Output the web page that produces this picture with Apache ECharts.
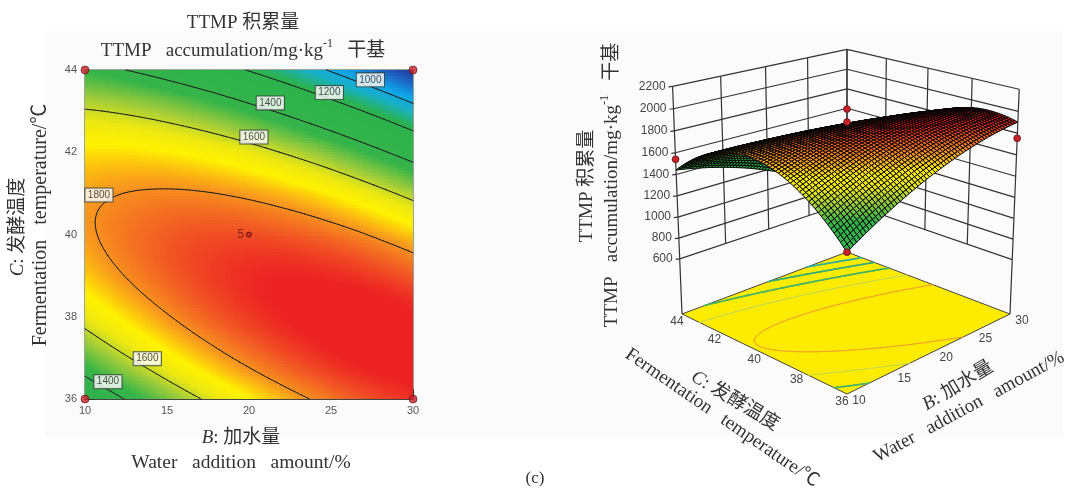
<!DOCTYPE html>
<html><head><meta charset="utf-8">
<style>html,body{margin:0;padding:0;background:#fff}#c{width:1069px;height:488px}</style>
<script src="https://cdn.jsdelivr.net/npm/echarts@6/dist/echarts.min.js"></script>
</head><body><div id="c"></div>
<script>
// ---- values ----
const waterAddition = [10,12,14,16,18,20,22,24,26,28,30];
const fermentationTemp = [36,37,38,39,40,41,42,43,44];
const ttmp36 = [1279,1381,1474,1558,1634,1700,1758,1807,1848,1879,1902];
const ttmp37 = [1486,1571,1647,1715,1774,1824,1865,1897,1921,1935,1941];
const ttmp38 = [1639,1707,1767,1818,1860,1893,1918,1933,1940,1938,1927];
const ttmp39 = [1739,1791,1834,1868,1893,1910,1918,1916,1907,1888,1860];
const ttmp40 = [1786,1821,1847,1865,1873,1873,1864,1846,1820,1784,1740];
const ttmp41 = [1780,1798,1807,1808,1800,1783,1757,1723,1679,1627,1566];
const ttmp42 = [1720,1722,1714,1698,1673,1640,1597,1546,1486,1417,1340];
const ttmp43 = [1607,1592,1568,1535,1494,1443,1384,1316,1239,1154,1059];
const ttmp44 = [1441,1409,1368,1319,1261,1193,1118,1033,939,837,726];
const ttmpRows = [ttmp36,ttmp37,ttmp38,ttmp39,ttmp40,ttmp41,ttmp42,ttmp43,ttmp44];
const contourLevels = [1000,1200,1400,1600,1800];
const contourLabelB = [27.4,24.9,21.3,20.3,10.85,13.8,11.4];
const contourLabelC = [43.76,43.45,43.2,42.37,40.96,36.98,36.42];
const contourLabelV = ['1000','1200','1400','1600','1800','1600','1400'];
const cornerPointsB = [10,30,10,30];
const cornerPointsC = [44,44,36,36];
const centerPoint = [20,40];
const designB = [10,30,10,20,20];
const designC = [44,36,36,40,40];
const designZ = [1540,1753,1280,1891,2009];
const bTicks = [10,15,20,25,30];
const cTicks = [36,38,40,42,44];
const zTicks = [600,800,1000,1200,1400,1600,1800,2000,2200];

// ---- colour scale ----
const rampV = [700,830,960,1060,1180,1450,1560,1640,1705,1790,1860,1920];
const rampC = ['#1f2f8f','#1f5fc0','#0ea5e8','#18b0c8','#2bb24c','#35b44a','#a0cc3a','#ece812','#fff200','#f8981d','#f15a24','#ec2224'];
function hex(c){return [1,3,5].map(i=>parseInt(c.substr(i,2),16));}
const rampRGB = rampC.map(hex);
function colorOf(v){
  if(v<=rampV[0])return rampC[0];
  for(let i=1;i<rampV.length;i++){ if(v<=rampV[i]){
    const t=(v-rampV[i-1])/(rampV[i]-rampV[i-1]),a=rampRGB[i-1],b=rampRGB[i];
    return 'rgb('+a.map((x,k)=>Math.round(x+(b[k]-x)*t)).join(',')+')';
  }}
  return rampC[rampC.length-1];
}

// ---- smooth reading of the table between its nodes (drawing only) ----
const nB=waterAddition.length,nC=fermentationTemp.length;
function node(i,j){
  if(j<0)return 3*node(i,0)-3*node(i,1)+node(i,2);
  if(j>=nC)return 3*node(i,nC-1)-3*node(i,nC-2)+node(i,nC-3);
  if(i<0)return 3*ttmpRows[j][0]-3*ttmpRows[j][1]+ttmpRows[j][2];
  if(i>=nB)return 3*ttmpRows[j][nB-1]-3*ttmpRows[j][nB-2]+ttmpRows[j][nB-3];
  return ttmpRows[j][i];
}
function cr(p0,p1,p2,p3,t){return p1+.5*t*(p2-p0+t*(2*p0-5*p1+4*p2-p3+t*(3*(p1-p2)+p3-p0)));}
function surfaceAt(B,C){
  const fx=(B-waterAddition[0])/(waterAddition[1]-waterAddition[0]);
  const fy=(C-fermentationTemp[0])/(fermentationTemp[1]-fermentationTemp[0]);
  const i=Math.min(nB-2,Math.floor(fx)),j=Math.min(nC-2,Math.floor(fy));
  const tx=fx-i,ty=fy-j,r=[];
  for(let k=-1;k<=2;k++)r.push(cr(node(i-1,j+k),node(i,j+k),node(i+1,j+k),node(i+2,j+k),tx));
  return cr(r[0],r[1],r[2],r[3],ty);
}
function contourSegments(level){
  const NX=100,NY=80,segs=[];
  const bAt=i=>10+20*i/NX,cAt=j=>36+8*j/NY;
  for(let i=0;i<NX;i++)for(let j=0;j<NY;j++){
    const P=[[bAt(i),cAt(j)],[bAt(i+1),cAt(j)],[bAt(i+1),cAt(j+1)],[bAt(i),cAt(j+1)]];
    const V=P.map(p=>surfaceAt(p[0],p[1])),x=[];
    for(let k=0;k<4;k++){const a=V[k],b=V[(k+1)%4];
      if((a<level)!==(b<level)){const t=(level-a)/(b-a),p=P[k],q=P[(k+1)%4];
        x.push([p[0]+(q[0]-p[0])*t,p[1]+(q[1]-p[1])*t]);}}
    if(x.length===2)segs.push(x);
  }
  return segs;
}

// ---- 3D view: floor corners in the photographed view ----
const fF=[847,394],fR=[1010,314],fBk=[847,252],fL=[682,314];
const vpX=847,vpY=4290,zScale=2.88e-5,floorZ=60;
const sx=fF[0]-fR[0]+fBk[0]-fL[0],sy=fF[1]-fR[1]+fBk[1]-fL[1];
const dx1=fR[0]-fBk[0],dx2=fL[0]-fBk[0],dy1=fR[1]-fBk[1],dy2=fL[1]-fBk[1];
const det=dx1*dy2-dx2*dy1;
const hg=(sx*dy2-dx2*sy)/det,hh=(dx1*sy-dy1*sx)/det;
const ha=fR[0]-fF[0]+hg*fR[0],hb=fL[0]-fF[0]+hh*fL[0],hd=fR[1]-fF[1]+hg*fR[1],he=fL[1]-fF[1]+hh*fL[1];
function project(B,C,z){
  const u=(B-10)/20,v=(C-36)/8,t=-zScale*(z-floorZ),W=hg*u+hh*v+1+t;
  return [(ha*u+hb*v+fF[0]+vpX*t)/W,(hd*u+he*v+fF[1]+vpY*t)/W];
}

// ---- cell list for the flat map ----
const cellData=[];
for(let i=0;i<nB-1;i++)for(let j=0;j<nC-1;j++)cellData.push([waterAddition[i],fermentationTemp[j],waterAddition[i+1],fermentationTemp[j+1]]);

const lineFont='"Liberation Sans",Arial,sans-serif';
const serif='"Liberation Serif","Noto Sans CJK SC",serif';
const ink='#333333';

function renderCell(p,api){
  const B0=api.value(0),C0=api.value(1),B1=api.value(2),C1=api.value(3);
  const a=api.coord([B0,C1]),b=api.coord([B1,C0]);
  const nx=Math.ceil((b[0]-a[0])/3),ny=Math.ceil((b[1]-a[1])/3),ch=[];
  for(let i=0;i<nx;i++)for(let j=0;j<ny;j++){
    const x0=Math.round(a[0]+(b[0]-a[0])*i/nx),x1=Math.round(a[0]+(b[0]-a[0])*(i+1)/nx);
    const y0=Math.round(a[1]+(b[1]-a[1])*j/ny),y1=Math.round(a[1]+(b[1]-a[1])*(j+1)/ny);
    const vb=B0+(B1-B0)*(i+.5)/nx,vc=C1+(C0-C1)*(j+.5)/ny;
    ch.push({type:'rect',shape:{x:x0,y:y0,width:x1-x0,height:y1-y0},style:{fill:colorOf(surfaceAt(vb,vc))}});
  }
  return {type:'group',children:ch,silent:true};
}
function renderContour(p,api){
  const ch=contourSegments(api.value(0)).map(s=>{
    const a=api.coord(s[0]),b=api.coord(s[1]);
    return {type:'line',shape:{x1:a[0],y1:a[1],x2:b[0],y2:b[1]},style:{stroke:'#222',lineWidth:1,lineCap:'round'}};
  });
  return {type:'group',children:ch,silent:true};
}

function seg(api,A,B,style){
  const a=api.coord(A),b=api.coord(B);
  return {type:'line',shape:{x1:a[0],y1:a[1],x2:b[0],y2:b[1]},style:Object.assign({stroke:'#333',lineWidth:1.2},style||{})};
}
function renderWalls(p,api){
  const ch=[];
  zTicks.forEach(z=>{
    ch.push(seg(api,project(10,44,z),project(30,44,z)));
    ch.push(seg(api,project(30,44,z),project(30,36,z)));
    const q=project(10,44,z),s=api.coord(q);
    ch.push(seg(api,q,[q[0]-4,q[1]+.5]));
    ch.push({type:'text',x:s[0]-7,y:s[1],style:{text:String(z),font:'12px '+lineFont,fill:'#444',align:'right',verticalAlign:'middle'}});
  });
  bTicks.forEach(b=>ch.push(seg(api,project(b,44,600),project(b,44,2200))));
  cTicks.forEach(c=>ch.push(seg(api,project(30,c,600),project(30,c,2200))));
  ch.push(seg(api,project(10,44,floorZ),project(10,44,600)));
  ch.push(seg(api,project(30,36,floorZ),project(30,36,600)));
  return {type:'group',children:ch,silent:true};
}
const floorLineColors={1000:'#2fb0a0',1200:'#35ad78',1400:'#45b266',1600:'#c4dc50',1800:'#f2a12e'};
function renderFloor(p,api){
  const pts=[project(10,36,floorZ),project(30,36,floorZ),project(30,44,floorZ),project(10,44,floorZ)].map(q=>api.coord(q));
  const ch=[{type:'polygon',shape:{points:pts},style:{fill:'#fdec00',stroke:'#444',lineWidth:1}}];
  contourLevels.forEach(l=>contourSegments(l).forEach(s=>{
    ch.push(seg(api,project(s[0][0],s[0][1],floorZ),project(s[1][0],s[1][1],floorZ),{stroke:floorLineColors[l],lineWidth:l>=1600?1:1.6,lineCap:'round'}));
  }));
  cTicks.forEach(c=>{
    const q=project(10,c,floorZ),s=api.coord(q);
    ch.push({type:'text',x:s[0]-5,y:s[1]+8,style:{text:String(c),font:'12px '+lineFont,fill:'#444',align:'center',verticalAlign:'middle'}});
  });
  bTicks.forEach(b=>{
    const q=project(b,36,floorZ),s=api.coord(q);
    ch.push({type:'text',x:s[0]+12,y:s[1]+6.5,style:{text:String(b),font:'12px '+lineFont,fill:'#444',align:'center',verticalAlign:'middle'}});
  });
  return {type:'group',children:ch,silent:true};
}
function renderMesh(p,api){
  const N=60,ch=[];
  for(let s=2*N-2;s>=0;s--){
    for(let i=Math.max(0,s-N+1);i<=Math.min(N-1,s);i++){
      const j=s-i;
      const b0=10+20*i/N,b1=10+20*(i+1)/N,c0=36+8*j/N,c1=36+8*(j+1)/N;
      const v=[[b0,c0],[b1,c0],[b1,c1],[b0,c1]].map(q=>[q[0],q[1],surfaceAt(q[0],q[1])]);
      const pts=v.map(q=>api.coord(project(q[0],q[1],q[2])));
      const m=(v[0][2]+v[1][2]+v[2][2]+v[3][2])/4;
      ch.push({type:'polygon',shape:{points:pts},style:{fill:colorOf(m),stroke:'#050505',lineWidth:1}});
    }
  }
  return {type:'group',children:ch,silent:true};
}
function renderDesign(p,api){
  const q=api.coord(project(api.value(0),api.value(1),api.value(2)));
  return {type:'circle',shape:{cx:q[0],cy:q[1],r:3.4},style:{fill:'#c8202a',stroke:'#5a1010',lineWidth:.8}};
}

function title(text,x,y,rot,size,rich){
  return {type:'text',x:x,y:y,rotation:(rot||0)*Math.PI/180,z:20,silent:true,
    style:{text:text,font:size+'px '+serif,fill:ink,align:'center',verticalAlign:'middle',rich:rich}};
}
function accRich(sz){return {
  n:{font:sz+'px '+serif,fill:ink,verticalAlign:'bottom',lineHeight:sz+4},
  s:{font:(sz-7)+'px '+serif,fill:ink,verticalAlign:'top',lineHeight:sz+4}};}
function varRich(sz){return {
  i:{font:'italic '+sz+'px '+serif,fill:ink},
  n:{font:sz+'px '+serif,fill:ink}};}
const accText='{n|TTMP   accumulation/mg·kg}{s|-1}{n|   干基}';
const fermText='Fermentation   temperature/℃';
const waterText='Water   addition   amount/%';

const option={
  backgroundColor:'#ffffff',
  animation:false,
  graphic:[
    {type:'rect',shape:{x:45,y:31,width:1018,height:407},style:{fill:'#fbfbfb'},z:-1,silent:true},
    title('TTMP 积累量',243,23,0,19),
    title(accText,243,49,0,19,accRich(19)),
    title('{i|C}{n|: 发酵温度}',18,227,90,19,varRich(19)),
    title(fermText,41,225,90,20),
    title('{i|B}{n|: 加水量}',241,438,0,19,varRich(19)),
    title(waterText,241,463,0,19.5),
    title('(c)',535,479,0,17),
    title('TTMP 积累量',587,186,90,19),
    title(accText,610,185,90,19,accRich(19)),
    title('{i|C}{n|: 发酵温度}',735,401,-31,19,varRich(19)),
    title(fermText,722,418,-34.5,19),
    title('{i|B}{n|: 加水量}',958,386,31,19,varRich(19)),
    title(waterText,969,407,28.5,19)
  ],
  grid:[
    {left:85,top:70,width:328,height:329,show:true,borderColor:'#3d4a3d',borderWidth:1,backgroundColor:'transparent'},
    {left:0,top:0,width:1069,height:488,show:false}
  ],
  xAxis:[
    {type:'value',gridIndex:0,min:10,max:30,interval:5,splitLine:{show:false},
     axisLine:{lineStyle:{color:'#444'}},axisTick:{inside:true,length:10,lineStyle:{color:'#333'}},
     axisLabel:{margin:6,fontFamily:lineFont,fontSize:11,color:'#555'}},
    {type:'value',gridIndex:1,min:0,max:1069,show:false,splitLine:{show:false}}
  ],
  yAxis:[
    {type:'value',gridIndex:0,min:36,max:44,interval:2,splitLine:{show:false},
     axisLine:{lineStyle:{color:'#444'}},axisTick:{inside:true,length:10,lineStyle:{color:'#333'}},
     axisLabel:{margin:8,fontFamily:lineFont,fontSize:11,color:'#555'}},
    {type:'value',gridIndex:1,min:0,max:488,inverse:true,show:false,splitLine:{show:false}}
  ],
  series:[
    {type:'custom',name:'ttmpMap',xAxisIndex:0,yAxisIndex:0,z:2,data:cellData,renderItem:renderCell,silent:true,clip:false},
    {type:'custom',name:'contours',xAxisIndex:0,yAxisIndex:0,z:3,data:contourLevels.map(l=>[l]),renderItem:renderContour,silent:true,encode:{x:-1,y:-1}},
    {type:'scatter',name:'contourLabels',xAxisIndex:0,yAxisIndex:0,z:4,symbolSize:0,silent:true,
     data:contourLabelB.map((b,i)=>({value:[b,contourLabelC[i]],label:{formatter:contourLabelV[i]}})),
     label:{show:true,position:'inside',fontFamily:lineFont,fontSize:10,color:'#222',backgroundColor:'#fff',borderColor:'#2f3f35',borderWidth:1,padding:[1.5,2.5]}},
    {type:'scatter',name:'cornerPoints',xAxisIndex:0,yAxisIndex:0,z:5,symbolSize:8,clip:false,silent:true,
     itemStyle:{color:'#c8202a',borderColor:'#5a1010',borderWidth:.8},
     data:cornerPointsB.map((b,i)=>[b,cornerPointsC[i]])},
    {type:'scatter',name:'center',xAxisIndex:0,yAxisIndex:0,z:5,symbolSize:5,silent:true,
     itemStyle:{color:'#c8202a',borderColor:'#401010',borderWidth:1},
     label:{show:true,position:'left',distance:2,formatter:'5',fontFamily:lineFont,fontSize:12,color:'#6a1a1a'},
     data:[centerPoint]},
    {type:'custom',name:'walls',xAxisIndex:1,yAxisIndex:1,z:2,data:[[0,0]],renderItem:renderWalls,silent:true,clip:false},
    {type:'custom',name:'floor',xAxisIndex:1,yAxisIndex:1,z:3,data:[[0,0]],renderItem:renderFloor,silent:true,clip:false},
    {type:'custom',name:'surface',xAxisIndex:1,yAxisIndex:1,z:4,data:[[0,0]],renderItem:renderMesh,silent:true,clip:false},
    {type:'custom',name:'designPoints',z:5,xAxisIndex:1,yAxisIndex:1,silent:true,clip:false,encode:{x:-1,y:-1},
     data:designB.map((b,i)=>[b,designC[i],designZ[i]]),renderItem:renderDesign}
  ]
};
const chart=echarts.init(document.getElementById('c'),null,{renderer:'canvas',width:1069,height:488});
chart.setOption(option);
</script></body></html>
